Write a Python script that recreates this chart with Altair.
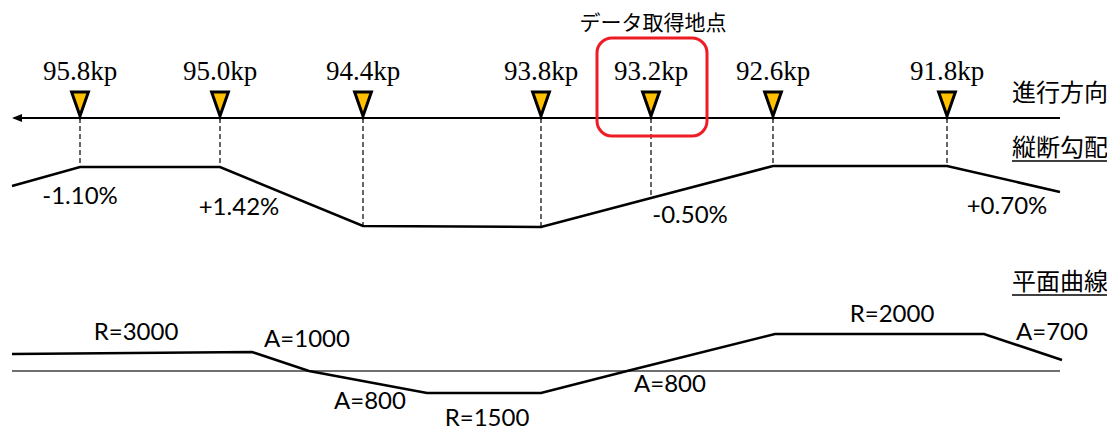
import altair as alt
import pandas as pd
import numpy as np

# ---------------- data (schematic diagram units) ----------------
kp_labels = ["95.8kp", "95.0kp", "94.4kp", "93.8kp", "93.2kp", "92.6kp", "91.8kp"]
kp_pos = [80, 220, 363, 541, 651, 773, 947]
selected_kp = "93.2kp"
selected_title = "データ取得地点"

track_span = [12, 1060]
track_level = 118
kp_label_level = 72
marker_level = 104

grad_pos = [12, 80, 220, 363, 541, 651, 773, 947, 1060]
grad_level = [186, 167, 167, 226, 227, 198, 166, 166, 192]
grad_labels = ["-1.10%", "+1.42%", "-0.50%", "+0.70%"]
grad_label_pos = [80, 239, 690, 1007]
grad_label_level = [197, 208, 216, 207]

curve_pos = [12, 252, 309, 427, 541, 631, 775, 984, 1062]
curve_level = [354, 352, 371, 393, 393, 370, 334, 334, 360]
curve_ref_level = 371
curve_labels = ["R=3000", "A=1000", "A=800", "R=1500", "A=800", "R=2000", "A=700"]
curve_label_pos = [136, 307, 370, 487, 670, 892, 1052]
curve_label_level = [333, 340, 402, 419, 385, 315, 333]

row_titles = ["進行方向", "縦断勾配", "平面曲線"]
row_title_level = [94, 149, 283]
row_title_underline = [False, True, True]

# ---------------- scales ----------------
xs = alt.Scale(domain=[8, 1107], nice=False, zero=False)
ys = alt.Scale(domain=[8, 430], nice=False, zero=False, reverse=True)
X = lambda f="x": alt.X(f"{f}:Q", scale=xs, axis=None)
Y = lambda f="y": alt.Y(f"{f}:Q", scale=ys, axis=None)

# ---------------- tables ----------------
kp_df = pd.DataFrame({"label": kp_labels, "x": kp_pos})
kp_df["y_lab"] = kp_label_level
kp_df["y_mark"] = marker_level
kp_df["y_top"] = track_level
kp_df["y_bot"] = np.interp(kp_pos, grad_pos, grad_level)

grad_df = pd.DataFrame({"x": grad_pos, "y": grad_level, "o": range(len(grad_pos))})
curve_df = pd.DataFrame({"x": curve_pos, "y": curve_level, "o": range(len(curve_pos))})
grad_lab_df = pd.DataFrame({"label": grad_labels, "x": grad_label_pos, "y": grad_label_level})
curve_lab_df = pd.DataFrame({"label": curve_labels, "x": curve_label_pos, "y": curve_label_level})

track_df = pd.DataFrame({"x": [track_span[0] + 2], "x2": [track_span[1]], "y": [track_level]})
arrow_df = pd.DataFrame({"x": [track_span[0] + 5], "y": [track_level]})
ref_df = pd.DataFrame({"x": [track_span[0]], "x2": [track_span[1]], "y": [curve_ref_level]})

sel_x = kp_pos[kp_labels.index(selected_kp)]
sel_df = pd.DataFrame({"x": [sel_x - 54], "x2": [sel_x + 56], "y": [38], "y2": [136]})
sel_title_df = pd.DataFrame({"label": [selected_title], "x": [sel_x + 2], "y": [24]})

title_df = pd.DataFrame({"label": row_titles, "x": [1012] * 3, "y": row_title_level})
ul_df = pd.DataFrame({"x": [1012, 1012], "x2": [1109, 1109],
                      "y": [l + 12 for l, u in zip(row_title_level, row_title_underline) if u]})

# ---------------- layers ----------------
track = alt.Chart(track_df).mark_rule(color="black", strokeWidth=1.8).encode(x=X(), x2="x2", y=Y())
arrow = alt.Chart(arrow_df).mark_point(
    shape="M-1,0 L1,-0.8 L1,0.8 Z", size=100, filled=True, color="black", opacity=1
).encode(x=X(), y=Y())

dashes = alt.Chart(kp_df).mark_rule(color="black", strokeWidth=1.2, strokeDash=[5, 3]).encode(
    x=X(), y=Y("y_top"), y2="y_bot")

markers = alt.Chart(kp_df).mark_point(
    shape="M-0.7,-1 L0.7,-1 L0,1 Z", size=576, filled=True, fill="#FFC000",
    stroke="black", strokeWidth=3, opacity=1, fillOpacity=1, strokeJoin="miter"
).encode(x=X(), y=Y("y_mark"))

kp_text = alt.Chart(kp_df).mark_text(
    font="Liberation Serif", fontSize=27, align="center", baseline="middle", color="black"
).encode(x=X(), y=Y("y_lab"), text="label:N")

sel_box = alt.Chart(sel_df).mark_rect(
    fillOpacity=0, stroke="#EE1C25", strokeWidth=3, cornerRadius=15
).encode(x=X(), x2="x2", y=Y(), y2="y2")

sel_title = alt.Chart(sel_title_df).mark_text(
    font="Noto Sans CJK JP", fontSize=21, align="center", baseline="middle", color="black"
).encode(x=X(), y=Y(), text="label:N")

grad_line = alt.Chart(grad_df).mark_line(color="black", strokeWidth=2.5).encode(
    x=X(), y=Y(), order="o:Q")
grad_text = alt.Chart(grad_lab_df).mark_text(
    font="Lato", fontSize=24, align="center", baseline="middle", color="black"
).encode(x=X(), y=Y(), text="label:N")

ref_line = alt.Chart(ref_df).mark_rule(color="#404040", strokeWidth=1.3).encode(x=X(), x2="x2", y=Y())
curve_line = alt.Chart(curve_df).mark_line(color="black", strokeWidth=2.5).encode(
    x=X(), y=Y(), order="o:Q")
curve_text = alt.Chart(curve_lab_df).mark_text(
    font="Lato", fontSize=24, align="center", baseline="middle", color="black"
).encode(x=X(), y=Y(), text="label:N")

titles = alt.Chart(title_df).mark_text(
    font="Noto Sans CJK JP", fontSize=24, align="left", baseline="middle", color="black"
).encode(x=X(), y=Y(), text="label:N")
underlines = alt.Chart(ul_df).mark_rule(color="black", strokeWidth=1.5).encode(x=X(), x2="x2", y=Y())

chart = alt.layer(
    track, arrow, dashes, grad_line, ref_line, curve_line, markers, kp_text,
    sel_box, sel_title, grad_text, curve_text, titles, underlines
).properties(
    width=1099, height=422, autosize=alt.AutoSizeParams(type="none"), padding=0
).configure(background="white", view=alt.ViewConfig(stroke=None))

chart.save("out.html", embed_options={"renderer": "svg", "actions": False})
